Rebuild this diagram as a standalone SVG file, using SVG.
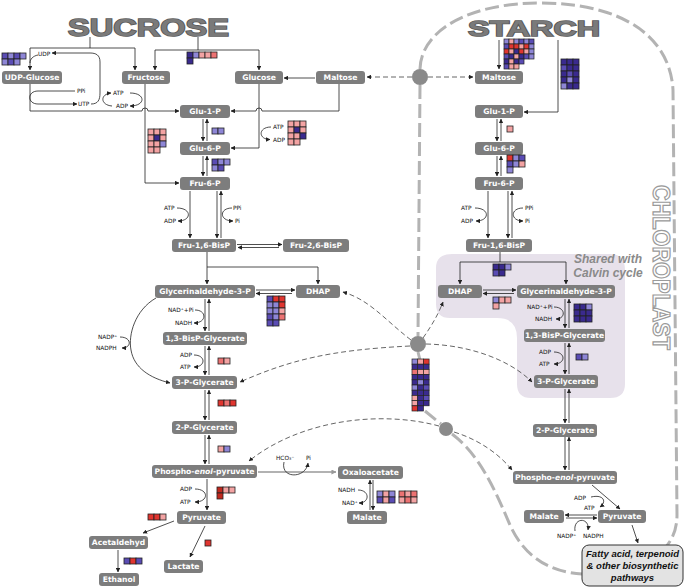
<svg xmlns="http://www.w3.org/2000/svg" xmlns:xlink="http://www.w3.org/1999/xlink" width="685" height="588" viewBox="0 0 685 588">
<style>
.n rect{fill:#7d7d7d}
.n text{fill:#fff;font-family:"DejaVu Sans",sans-serif;font-weight:bold;font-size:7.6px;text-anchor:middle}
.lb{font-family:"DejaVu Sans",sans-serif;font-size:5.8px;fill:#111}
.c{fill:none;stroke:#222;stroke-width:0.8;marker-end:url(#a)}
.l{fill:none;stroke:#222;stroke-width:0.8}
.d{fill:none;stroke:#555;stroke-width:0.9;stroke-dasharray:5 3;marker-end:url(#a)}
.bd{fill:none;stroke:#b3b3b3;stroke-width:3;stroke-dasharray:14 5}
.title{font-family:"Liberation Sans",Arial,sans-serif;font-weight:bold;fill:#7a7a7a;stroke:#5a5a5a;stroke-width:1.6;paint-order:stroke}
.D{fill:#3a2a8e}.P{fill:#5a4cb4}.L{fill:#8e86d6}.K{fill:#f3a3a3}.R{fill:#ec7272}.r{fill:#e0352f}.dr{fill:#c0281e}
</style>
<defs>
<marker id="a" viewBox="0 0 6 6" refX="5.5" refY="3" markerWidth="4.5" markerHeight="4.5" markerUnits="userSpaceOnUse" orient="auto"><path d="M0,0 L6,3 L0,6 z" fill="#222"/></marker>
<marker id="ag" viewBox="0 0 6 6" refX="5.5" refY="3" markerWidth="5" markerHeight="5" markerUnits="userSpaceOnUse" orient="auto"><path d="M0,0 L6,3 L0,6 z" fill="#999"/></marker>
<rect id="c" width="6" height="6" stroke="#222" stroke-width="0.8"/>
<rect id="c5" width="5" height="5" stroke="#222" stroke-width="0.7"/>
<rect id="cb" width="5.7" height="5.2" stroke="#222" stroke-width="0.7"/>
</defs>
<rect width="685" height="588" fill="#fff"/>

<!-- shared with Calvin cycle region -->
<path id="calvin-region" d="M452,254 L610,254 Q625,254 625,270 L625,384 Q625,398 610,398 L531,398 Q517,398 517,384 L517,338 Q517,318 497,318 L450,318 Q436,318 436,304 L436,268 Q436,254 452,254 Z" fill="#e7e1eb"/>

<!-- chloroplast boundary -->
<g id="chloroplast-boundary">
<path class="bd" d="M420,69 C421,30 470,3 540,3 C620,3 670,35 673,90 L677,515 C677,530 672,540 665,548"/>
<path class="bd" d="M420,85 L418,336"/>
<path d="M418,352 L420,360" stroke="#b3b3b3" stroke-width="3"/>
<path class="bd" d="M425,411 L441,424"/>
<path class="bd" d="M452,434 C480,455 495,490 510,525 C522,552 545,572 582,574"/>
</g>

<!-- titles -->
<text class="title" x="68" y="36" font-size="24" textLength="161" lengthAdjust="spacingAndGlyphs">SUCROSE</text>
<text class="title" x="468" y="36" font-size="22" textLength="132" lengthAdjust="spacingAndGlyphs">STARCH</text>
<text transform="translate(653,185) rotate(90)" font-family="Liberation Sans, Arial, sans-serif" font-weight="bold" font-size="23" fill="#fff" stroke="#9a9a9a" stroke-width="1.2" textLength="165" lengthAdjust="spacingAndGlyphs">CHLOROPLAST</text>
<text font-family="Liberation Sans, Arial, sans-serif" font-weight="bold" font-style="italic" font-size="12" fill="#8a8a8a" text-anchor="middle"><tspan x="608" y="263">Shared with</tspan><tspan x="608" y="277">Calvin cycle</tspan></text>

<g id="connectors">
<!-- sucrose splits -->
<path class="l" d="M90,37 V48 H135 M90,48 H30"/>
<path class="c" d="M135,48 V70"/>
<path class="c" d="M30,48 V70"/>
<path class="l" d="M38,55 C33,56 30,59 30,63"/>
<path class="l" d="M198,37 V50 M155,50 H259"/>
<path class="c" d="M155,50 V70"/>
<path class="c" d="M259,50 V70"/>
<!-- UTP/PPi loop -->
<path class="c" d="M75,91 H38 C27,91 27,104 38,104 H77"/>
<path class="c" d="M91,104 C98,104 100,100 100,93 V62 C100,55 96,53 90,53 H52"/>
<path class="c" d="M112,106 C100,105 100,94 111,93"/>
<path class="c" d="M130,93 C146,93 146,106 130,106"/>
<!-- to Glu-1-P / Fru-6-P / Glu-6-P -->
<path class="c" d="M30,84 V111 H142 A3,3 0 0 1 148,111 H179"/>
<path class="c" d="M145,84 V183 H179"/>
<path class="c" d="M259,84 V148 H231"/>
<path class="c" d="M271,127 C258,127 258,139.5 270,139.5"/>
<path class="c" d="M339,84 V111 H262 A3,3 0 0 0 256,111 H231"/>
<path class="c" d="M315,78 H284"/>
<!-- left glycolysis -->
<path class="c" d="M203,119 V141"/><path class="c" d="M207,141 V119"/>
<path class="c" d="M203,156 V176"/><path class="c" d="M207,176 V156"/>
<path class="c" d="M190,191 V238"/>
<path class="c" d="M217,191 V238"/><path class="c" d="M221,238 V191"/>
<path class="c" d="M177,208 C192,208 192,221 178,221"/>
<path class="c" d="M232,208 C219,208 219,221 233,221"/>
<path class="c" d="M237,244.5 H282"/><path class="c" d="M279,247.5 H238"/>
<path class="l" d="M207,252 V267 H318"/>
<path class="c" d="M207,267 V284"/>
<path class="c" d="M318,267 V284"/>
<path class="c" d="M256,290 H295"/><path class="c" d="M292,293.5 H256"/>
<path class="c" d="M205,299 V331"/><path class="c" d="M209,331 V299"/>
<path class="c" d="M195,310 C207,310 207,323 194,323"/>
<path class="c" d="M205,346 V375"/><path class="c" d="M209,375 V346"/>
<path class="c" d="M194,355 C206,355 206,367 194,367"/>
<path class="c" d="M156,298 C135,310 128,335 131,350 C134,368 150,378 170,383"/>
<path class="c" d="M120,337 C132,337 132,348 122,348"/>
<path class="c" d="M205,390 V420"/><path class="c" d="M209,420 V390"/>
<path class="c" d="M205,435 V464"/><path class="c" d="M209,464 V435"/>
<path class="c" d="M207,479 V510"/>
<path class="c" d="M195,489 C209,489 209,502 195,502"/>
<path class="c" d="M174,521 L143,533"/>
<path class="c" d="M205,526 L190,557"/>
<path class="c" d="M118,550 V572"/>
<path d="M258,472 H336" fill="none" stroke="#999" stroke-width="1.5" marker-end="url(#ag)"/>
<path class="c" d="M284,462 C280,479 306,479 308,463"/>
<path class="c" d="M370,510 V480"/><path class="c" d="M373,480 V510"/>
<path class="c" d="M358,490 C370,490 370,503 359,503"/>
<!-- dashed transport arrows -->
<path class="d" d="M412,77 H367"/>
<path class="d" d="M428,77 H473"/>
<path class="d" d="M411,340 C385,320 370,300 343,292"/>
<path class="d" d="M410,346 C330,350 290,360 240,382"/>
<path class="d" d="M423,338 C432,325 438,315 443,302"/>
<path class="d" d="M426,344 C470,345 510,360 532,382"/>
<path class="d" d="M439,426 C380,410 300,420 249,461"/>
<path class="d" d="M454,432 C480,440 500,455 512,470"/>
<!-- right starch pathway -->
<path class="c" d="M499,40 V69"/>
<path class="c" d="M558,40 V112 H524"/>
<path class="c" d="M497,119 V141"/><path class="c" d="M501,141 V119"/>
<path class="c" d="M497,156 V176"/><path class="c" d="M501,176 V156"/>
<path class="c" d="M488,191 V238"/>
<path class="c" d="M508,191 V238"/><path class="c" d="M512,238 V191"/>
<path class="c" d="M475,208 C490,208 490,221 476,221"/>
<path class="c" d="M523,208 C510,208 510,221 523,221"/>
<path class="l" d="M500,252 V262 M460,262 H566"/>
<path class="c" d="M460,262 V284"/>
<path class="c" d="M566,262 V284"/>
<path class="c" d="M483,290 H516"/><path class="c" d="M514,293.5 H483"/>
<path class="c" d="M565,299 V328"/><path class="c" d="M569,328 V299"/>
<path class="c" d="M554,307 C566,307 566,319 556,319"/>
<path class="c" d="M565,343 V374"/><path class="c" d="M569,374 V343"/>
<path class="c" d="M554,352 C566,352 566,364 554,364"/>
<path class="c" d="M565,389 V423"/><path class="c" d="M569,423 V389"/>
<path class="c" d="M565,437 V470"/><path class="c" d="M569,470 V437"/>
<path class="c" d="M592,485 L620,509"/>
<path class="c" d="M591,497 C604,494 607,502 600,507"/>
<path class="c" d="M597,515 H565"/><path class="c" d="M566,518 H597"/>
<path class="c" d="M575,531 C573,517 590,517 588,530"/>
<path class="c" d="M632,525 L638,543"/>
</g>

<!-- small labels -->
<g class="lb">
<text x="38" y="56">UDP</text>
<text x="77" y="93">PPi</text>
<text x="78" y="106">UTP</text>
<text x="113" y="95">ATP</text>
<text x="116" y="108">ADP</text>
<text x="273" y="129">ATP</text>
<text x="273" y="141.5">ADP</text>
<text x="164" y="210">ATP</text>
<text x="164" y="223">ADP</text>
<text x="233" y="210">PPi</text>
<text x="235" y="223">Pi</text>
<text x="168" y="312">NAD⁺+Pi</text>
<text x="175" y="325">NADH</text>
<text x="180" y="357">ADP</text>
<text x="180" y="369">ATP</text>
<text x="98" y="339">NADP⁺</text>
<text x="96" y="350">NADPH</text>
<text x="180" y="491">ADP</text>
<text x="180" y="504">ATP</text>
<text x="276" y="460">HCO₃⁻</text>
<text x="306" y="460">Pi</text>
<text x="338" y="492">NADH</text>
<text x="342" y="505">NAD⁺</text>
<text x="461" y="210">ATP</text>
<text x="461" y="223">ADP</text>
<text x="525" y="210">PPi</text>
<text x="525" y="223">Pi</text>
<text x="527" y="309">NAD⁺+Pi</text>
<text x="535" y="321">NADH</text>
<text x="539" y="354">ADP</text>
<text x="539" y="366">ATP</text>
<text x="574" y="500">ADP</text>
<text x="584" y="510">ATP</text>
<text x="557" y="538">NADP⁺</text>
<text x="583" y="538">NADPH</text>
</g>

<!-- nodes: sucrose side -->
<g id="n-udpglc" class="n"><rect x="2" y="71" width="60" height="13" rx="3"/><text x="32" y="80.3">UDP-Glucose</text></g>
<g id="n-fructose" class="n"><rect x="122" y="71" width="48" height="13" rx="3"/><text x="146" y="80.3">Fructose</text></g>
<g id="n-glucose" class="n"><rect x="235" y="71" width="48" height="13" rx="3"/><text x="259" y="80.3">Glucose</text></g>
<g id="n-maltose" class="n"><rect x="316" y="71" width="49" height="13" rx="3"/><text x="340.5" y="80.3">Maltose</text></g>
<g id="n-g1p" class="n"><rect x="180" y="105" width="50" height="13" rx="3"/><text x="205" y="114.3">Glu-1-P</text></g>
<g id="n-g6p" class="n"><rect x="180" y="142" width="50" height="13" rx="3"/><text x="205" y="151.3">Glu-6-P</text></g>
<g id="n-f6p" class="n"><rect x="180" y="177" width="50" height="13" rx="3"/><text x="205" y="186.3">Fru-6-P</text></g>
<g id="n-fbp" class="n"><rect x="172" y="239" width="64" height="13" rx="3"/><text x="204" y="248.3">Fru-1,6-BisP</text></g>
<g id="n-f26bp" class="n"><rect x="283" y="239" width="66" height="13" rx="3"/><text x="316" y="248.3">Fru-2,6-BisP</text></g>
<g id="n-gap" class="n"><rect x="155" y="285" width="100" height="13" rx="3"/><text x="205" y="294.3">Glycerinaldehyde-3-P</text></g>
<g id="n-dhap" class="n"><rect x="296" y="285" width="44" height="13" rx="3"/><text x="318" y="294.3">DHAP</text></g>
<g id="n-bpg" class="n"><rect x="163" y="332" width="84" height="13" rx="3"/><text x="205" y="341.3">1,3-BisP-Glycerate</text></g>
<g id="n-3pg" class="n"><rect x="172" y="376" width="65" height="13" rx="3"/><text x="204.5" y="385.3">3-P-Glycerate</text></g>
<g id="n-2pg" class="n"><rect x="172" y="421" width="65" height="13" rx="3"/><text x="204.5" y="430.3">2-P-Glycerate</text></g>
<g id="n-pep" class="n"><rect x="152" y="465" width="105" height="13" rx="3"/><text x="204.5" y="474.3">Phospho-<tspan font-style="italic">enol</tspan>-pyruvate</text></g>
<g id="n-oaa" class="n"><rect x="338" y="466" width="65" height="13" rx="3"/><text x="370.5" y="475.3">Oxaloacetate</text></g>
<g id="n-malate" class="n"><rect x="347" y="511" width="40" height="13" rx="3"/><text x="367" y="520.3">Malate</text></g>
<g id="n-pyruvate" class="n"><rect x="177" y="511" width="49" height="13" rx="3"/><text x="201.5" y="520.3">Pyruvate</text></g>
<g id="n-acetaldehyd" class="n"><rect x="89" y="536" width="59" height="13" rx="3"/><text x="118.5" y="545.3">Acetaldehyd</text></g>
<g id="n-lactate" class="n"><rect x="164" y="560" width="39" height="13" rx="3"/><text x="183.5" y="569.3">Lactate</text></g>
<g id="n-ethanol" class="n"><rect x="99" y="573" width="40" height="13" rx="3"/><text x="119" y="582.3">Ethanol</text></g>

<!-- nodes: chloroplast side -->
<g id="c-maltose" class="n"><rect x="475" y="71" width="48" height="13" rx="3"/><text x="499" y="80.3">Maltose</text></g>
<g id="c-g1p" class="n"><rect x="475" y="105" width="48" height="13" rx="3"/><text x="499" y="114.3">Glu-1-P</text></g>
<g id="c-g6p" class="n"><rect x="475" y="142" width="48" height="13" rx="3"/><text x="499" y="151.3">Glu-6-P</text></g>
<g id="c-f6p" class="n"><rect x="475" y="177" width="48" height="13" rx="3"/><text x="499" y="186.3">Fru-6-P</text></g>
<g id="c-fbp" class="n"><rect x="466" y="239" width="66" height="13" rx="3"/><text x="499" y="248.3">Fru-1,6-BisP</text></g>
<g id="c-dhap" class="n"><rect x="438" y="285" width="44" height="13" rx="3"/><text x="460" y="294.3">DHAP</text></g>
<g id="c-gap" class="n"><rect x="517" y="285" width="98" height="13" rx="3"/><text x="566" y="294.3">Glycerinaldehyde-3-P</text></g>
<g id="c-bpg" class="n"><rect x="524" y="329" width="81" height="13" rx="3"/><text x="564.5" y="338.3">1,3-BisP-Glycerate</text></g>
<g id="c-3pg" class="n"><rect x="534" y="375" width="64" height="13" rx="3"/><text x="566" y="384.3">3-P-Glycerate</text></g>
<g id="c-2pg" class="n"><rect x="533" y="424" width="64" height="13" rx="3"/><text x="565" y="433.3">2-P-Glycerate</text></g>
<g id="c-pep" class="n"><rect x="513" y="471" width="104" height="13" rx="3"/><text x="565" y="480.3">Phospho-<tspan font-style="italic">enol</tspan>-pyruvate</text></g>
<g id="c-malate" class="n"><rect x="524" y="510" width="40" height="13" rx="3"/><text x="544" y="519.3">Malate</text></g>
<g id="c-pyruvate" class="n"><rect x="598" y="510" width="48" height="13" rx="3"/><text x="622" y="519.3">Pyruvate</text></g>
<g id="c-biosynth">
<rect x="582" y="545" width="101" height="41" rx="7" fill="#e3e3e3" stroke="#333" stroke-width="1"/>
<text font-family="Liberation Sans, Arial, sans-serif" font-weight="bold" font-style="italic" font-size="9.5" fill="#111" text-anchor="middle"><tspan x="632.5" y="557">Fatty acid, terpenoid</tspan><tspan x="632.5" y="569">&amp; other biosynthetic</tspan><tspan x="632.5" y="581">pathways</tspan></text>
</g>

<!-- heatmaps -->
<g id="heatmaps">
<g transform="translate(2,53)"><use href="#c" class="P"/><use href="#c" x="6" class="L"/><use href="#c" x="12" class="P"/><use href="#c" x="18" class="L"/><use href="#c" y="6" class="L"/><use href="#c" x="6" y="6" class="P"/><use href="#c" x="12" y="6" class="L"/></g>
<g transform="translate(187,52)"><use href="#c" class="D"/><use href="#c" x="6" class="L"/><use href="#c" x="12" class="K"/><use href="#c" x="18" class="K"/><use href="#c" x="24" class="R"/><use href="#c" y="6" class="D"/></g>
<g transform="translate(212,128)"><use href="#c" class="L"/><use href="#c" x="6" class="L"/></g>
<g transform="translate(212,159)"><use href="#c" class="P"/><use href="#c" x="6" class="L"/><use href="#c" x="12" class="L"/><use href="#c" y="6" class="L"/><use href="#c" x="6" y="6" class="P"/></g>
<g transform="translate(148,129)"><use href="#c" class="K"/><use href="#c" x="6" class="K"/><use href="#c" x="12" class="K"/><use href="#c" y="6" class="K"/><use href="#c" x="6" y="6" class="D"/><use href="#c" x="12" y="6" class="K"/><use href="#c" y="12" class="K"/><use href="#c" x="6" y="12" class="K"/><use href="#c" x="12" y="12" class="L"/><use href="#c" y="18" class="K"/><use href="#c" x="6" y="18" class="K"/></g>
<g transform="translate(288,121)"><use href="#c" class="K"/><use href="#c" x="6" class="K"/><use href="#c" x="12" class="K"/><use href="#c" y="6" class="K"/><use href="#c" x="6" y="6" class="D"/><use href="#c" x="12" y="6" class="K"/><use href="#c" y="12" class="K"/><use href="#c" x="6" y="12" class="K"/><use href="#c" x="12" y="12" class="D"/><use href="#c" y="18" class="K"/><use href="#c" x="6" y="18" class="K"/></g>
<g transform="translate(504,39)">
<use href="#c5" class="L"/><use href="#c5" x="5" class="K"/><use href="#c5" x="10" class="L"/><use href="#c5" x="15" class="P"/><use href="#c5" x="20" class="L"/><use href="#c5" x="25" class="P"/>
<use href="#c5" y="5" class="P"/><use href="#c5" x="5" y="5" class="r"/><use href="#c5" x="10" y="5" class="r"/><use href="#c5" x="15" y="5" class="K"/><use href="#c5" x="20" y="5" class="r"/><use href="#c5" x="25" y="5" class="L"/>
<use href="#c5" y="10" class="r"/><use href="#c5" x="5" y="10" class="K"/><use href="#c5" x="10" y="10" class="D"/><use href="#c5" x="15" y="10" class="r"/><use href="#c5" x="20" y="10" class="K"/><use href="#c5" x="25" y="10" class="L"/>
<use href="#c5" y="15" class="P"/><use href="#c5" x="5" y="15" class="D"/><use href="#c5" x="10" y="15" class="K"/><use href="#c5" x="15" y="15" class="D"/><use href="#c5" x="20" y="15" class="P"/><use href="#c5" x="25" y="15" class="L"/>
<use href="#c5" y="20" class="D"/><use href="#c5" x="5" y="20" class="K"/><use href="#c5" x="10" y="20" class="D"/><use href="#c5" x="15" y="20" class="P"/>
<use href="#c5" y="25" class="P"/><use href="#c5" x="5" y="25" class="K"/><use href="#c5" x="10" y="25" class="K"/>
</g>
<g transform="translate(561,59)"><use href="#c" class="D"/><use href="#c" x="6" class="D"/><use href="#c" x="12" class="D"/><use href="#c" y="6" class="P"/><use href="#c" x="6" y="6" class="D"/><use href="#c" x="12" y="6" class="D"/><use href="#c" y="12" class="D"/><use href="#c" x="6" y="12" class="P"/><use href="#c" x="12" y="12" class="D"/><use href="#c" y="18" class="D"/><use href="#c" x="6" y="18" class="L"/><use href="#c" x="12" y="18" class="D"/><use href="#c" y="24" class="L"/><use href="#c" x="6" y="24" class="D"/><use href="#c" x="12" y="24" class="D"/></g>
<g transform="translate(507,126)"><use href="#c" class="K"/></g>
<g transform="translate(507,155)"><use href="#c" class="r"/><use href="#c" x="6" class="L"/><use href="#c" x="12" class="P"/><use href="#c" y="6" class="P"/><use href="#c" x="6" y="6" class="L"/><use href="#c" x="12" y="6" class="K"/><use href="#c" y="12" class="L"/></g>
<g transform="translate(493,264)"><use href="#c" class="D"/><use href="#c" x="6" class="D"/><use href="#c" x="12" class="L"/><use href="#c" y="6" class="P"/><use href="#c" x="6" y="6" class="D"/></g>
<g transform="translate(493,297)"><use href="#c" class="L"/><use href="#c" x="6" class="K"/><use href="#c" x="12" class="K"/><use href="#c" y="6" class="K"/></g>
<g transform="translate(574,304)"><use href="#c" class="D"/><use href="#c" x="6" class="D"/><use href="#c" x="12" class="L"/><use href="#c" y="6" class="D"/><use href="#c" x="6" y="6" class="D"/><use href="#c" x="12" y="6" class="D"/><use href="#c" y="12" class="D"/><use href="#c" x="6" y="12" class="D"/><use href="#c" x="12" y="12" class="D"/></g>
<g transform="translate(576,354)"><use href="#c" class="P"/><use href="#c" x="6" class="L"/></g>
<g transform="translate(267,296)"><use href="#c" class="P"/><use href="#c" x="6" class="r"/><use href="#c" x="12" class="r"/><use href="#c" y="6" class="L"/><use href="#c" x="6" y="6" class="L"/><use href="#c" x="12" y="6" class="r"/><use href="#c" y="12" class="L"/><use href="#c" x="6" y="12" class="L"/><use href="#c" x="12" y="12" class="K"/><use href="#c" y="18" class="P"/><use href="#c" x="6" y="18" class="L"/><use href="#c" x="12" y="18" class="R"/><use href="#c" y="24" class="P"/><use href="#c" x="6" y="24" class="P"/></g>
<g transform="translate(218,358)"><use href="#c" class="R"/><use href="#c" x="6" class="K"/></g>
<g transform="translate(218,400)"><use href="#c" class="r"/><use href="#c" x="6" class="R"/><use href="#c" x="12" class="r"/></g>
<g transform="translate(218,446)"><use href="#c" class="K"/><use href="#c" x="6" class="L"/></g>
<g transform="translate(217,487)"><use href="#c" class="dr"/><use href="#c" x="6" class="K"/><use href="#c" x="12" class="K"/><use href="#c" y="6" class="dr"/></g>
<g transform="translate(148,514)"><use href="#c" class="r"/><use href="#c" x="6" class="r"/><use href="#c" x="12" class="K"/></g>
<g transform="translate(205,540)"><use href="#c" class="r"/></g>
<g transform="translate(124,558)"><use href="#c" class="P"/><use href="#c" x="6" class="r"/><use href="#c" x="12" class="P"/></g>
<g transform="translate(377,491)"><use href="#c" class="L"/><use href="#c" x="6" class="K"/><use href="#c" x="12" class="L"/><use href="#c" y="6" class="P"/><use href="#c" x="6" y="6" class="K"/><use href="#c" x="12" y="6" class="P"/></g>
<g transform="translate(399,491)"><use href="#c" class="R"/><use href="#c" x="6" class="K"/><use href="#c" x="12" class="R"/><use href="#c" y="6" class="K"/><use href="#c" x="6" y="6" class="R"/><use href="#c" x="12" y="6" class="K"/></g>
<g transform="translate(412,359)">
<use href="#cb" class="L"/><use href="#cb" x="5.7" class="K"/><use href="#cb" x="11.4" class="r"/>
<use href="#cb" y="5.2" class="D"/><use href="#cb" x="5.7" y="5.2" class="D"/><use href="#cb" x="11.4" y="5.2" class="D"/>
<use href="#cb" y="10.4" class="R"/><use href="#cb" x="5.7" y="10.4" class="K"/><use href="#cb" x="11.4" y="10.4" class="K"/>
<use href="#cb" y="15.6" class="D"/><use href="#cb" x="5.7" y="15.6" class="D"/><use href="#cb" x="11.4" y="15.6" class="D"/>
<use href="#cb" y="20.8" class="D"/><use href="#cb" x="5.7" y="20.8" class="L"/><use href="#cb" x="11.4" y="20.8" class="D"/>
<use href="#cb" y="26" class="L"/><use href="#cb" x="5.7" y="26" class="D"/><use href="#cb" x="11.4" y="26" class="P"/>
<use href="#cb" y="31.2" class="D"/><use href="#cb" x="5.7" y="31.2" class="D"/><use href="#cb" x="11.4" y="31.2" class="D"/>
<use href="#cb" y="36.4" class="K"/><use href="#cb" x="5.7" y="36.4" class="D"/><use href="#cb" x="11.4" y="36.4" class="P"/>
<use href="#cb" y="41.6" class="K"/><use href="#cb" x="5.7" y="41.6" class="D"/><use href="#cb" x="11.4" y="41.6" class="D"/>
<use href="#cb" y="46.8" class="r"/><use href="#cb" x="5.7" y="46.8" class="D"/>
</g>
</g>

<!-- transport junctions -->
<g id="junctions" fill="#8a8a8a">
<circle cx="420" cy="77" r="8"/>
<circle cx="418" cy="344" r="8"/>
<circle cx="446" cy="429" r="7"/>
</g>
</svg>
